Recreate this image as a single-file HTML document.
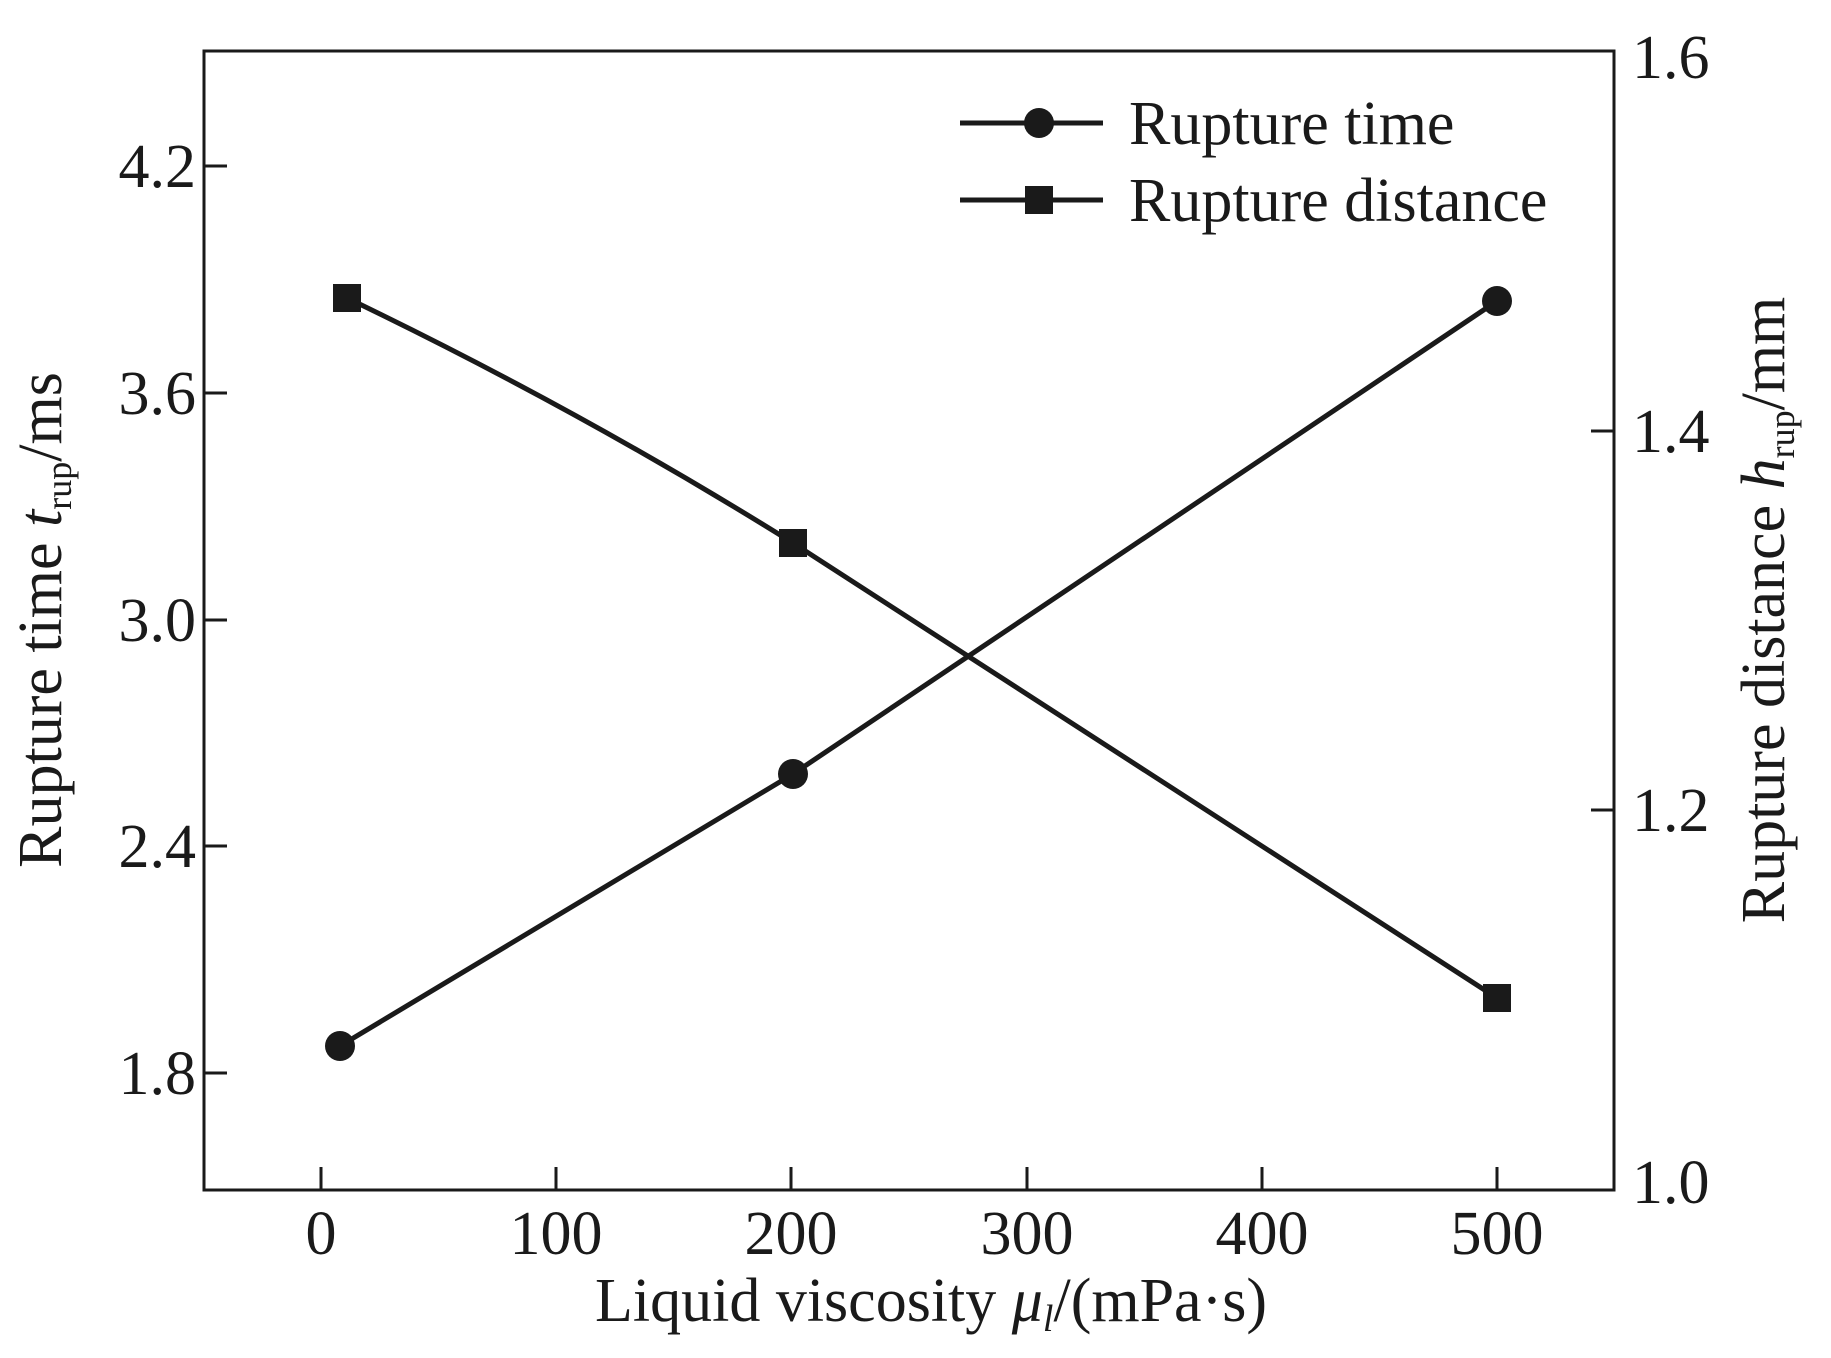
<!DOCTYPE html>
<html><head><style>body{margin:0;background:#fff}svg{display:block}</style></head><body>
<svg width="1831" height="1358" xmlns="http://www.w3.org/2000/svg" font-family="Liberation Serif, serif" fill="#1a1a1a">
<rect x="204" y="51" width="1410" height="1139" fill="none" stroke="#1a1a1a" stroke-width="3"/>
<g stroke="#1a1a1a" stroke-width="3">
<line x1="321" y1="1190" x2="321" y2="1167"/><line x1="556" y1="1190" x2="556" y2="1167"/><line x1="791" y1="1190" x2="791" y2="1167"/><line x1="1027" y1="1190" x2="1027" y2="1167"/><line x1="1262" y1="1190" x2="1262" y2="1167"/><line x1="1497" y1="1190" x2="1497" y2="1167"/>
<line x1="204" y1="166" x2="227" y2="166"/><line x1="204" y1="393" x2="227" y2="393"/><line x1="204" y1="620" x2="227" y2="620"/><line x1="204" y1="846" x2="227" y2="846"/><line x1="204" y1="1073" x2="227" y2="1073"/>
<line x1="1614" y1="431" x2="1591" y2="431"/><line x1="1614" y1="810" x2="1591" y2="810"/>
</g>
<g font-size="62" text-anchor="end">
<text x="196" y="187">4.2</text><text x="196" y="414">3.6</text><text x="196" y="641">3.0</text><text x="196" y="867">2.4</text><text x="196" y="1094">1.8</text>
</g>
<g font-size="62">
<text x="1632" y="78">1.6</text><text x="1632" y="452">1.4</text><text x="1632" y="831">1.2</text><text x="1632" y="1203">1.0</text>
</g>
<g font-size="62" text-anchor="middle">
<text x="321" y="1254">0</text><text x="556" y="1254">100</text><text x="791" y="1254">200</text><text x="1027" y="1254">300</text><text x="1262" y="1254">400</text><text x="1497" y="1254">500</text>
<text x="931" y="1321">Liquid viscosity <tspan font-style="italic">μ<tspan font-size="38" dy="10">l</tspan></tspan><tspan dy="-10">/(mPa·s)</tspan></text>
</g>
<text font-size="62" text-anchor="middle" transform="translate(61,620) rotate(-90)">Rupture time <tspan font-style="italic">t</tspan><tspan font-size="36" dy="10">rup</tspan><tspan dy="-10">/ms</tspan></text>
<text font-size="62" text-anchor="middle" transform="translate(1784,610) rotate(-90)">Rupture distance <tspan font-style="italic">h</tspan><tspan font-size="36" dy="10">rup</tspan><tspan dy="-10">/mm</tspan></text>
<g stroke="#1a1a1a" stroke-width="5" fill="none">
<polyline points="340,1046 793,774 1497,301"/>
<path d="M347,298 Q580,410 793,543 L1497,998"/>
<line x1="960" y1="123" x2="1103" y2="123"/><line x1="960" y1="200" x2="1103" y2="200"/>
</g>
<circle cx="340" cy="1046" r="15"/><circle cx="793" cy="774" r="15"/><circle cx="1497" cy="301" r="15"/>
<rect x="333" y="284" width="28" height="28"/><rect x="779" y="529" width="28" height="28"/><rect x="1483" y="984" width="28" height="28"/>
<circle cx="1039" cy="123" r="15"/><rect x="1025" y="186" width="28" height="28"/>
<g font-size="62"><text x="1129" y="144">Rupture time</text><text x="1129" y="221">Rupture distance</text></g>
</svg>
</body></html>
